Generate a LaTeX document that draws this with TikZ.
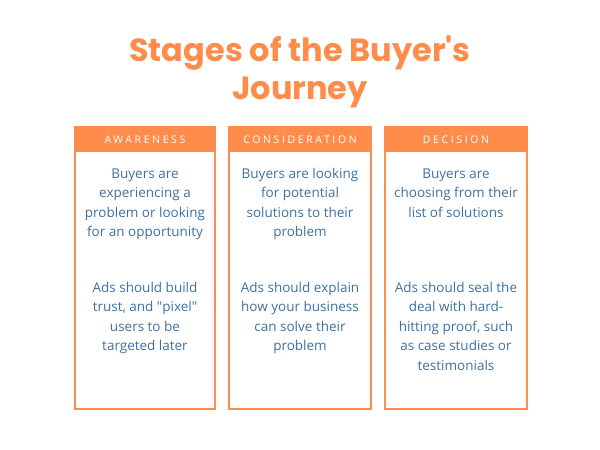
\documentclass[tikz,border=0pt]{standalone}
\usepackage{fontspec}
\setmainfont{Open Sans}
\newfontfamily\titlefont{Poppins}
\newfontfamily\headfont{Open Sans}[LetterSpace=25]
\definecolor{orng}{RGB}{255,140,75}
\definecolor{txtblue}{RGB}{62,112,160}
\begin{document}
\begin{tikzpicture}[x=1pt,y=-1pt,
  colbox/.style={draw=orng,line width=2pt},
  headbar/.style={fill=orng},
  headtxt/.style={text=white,font=\headfont\fontsize{10.5}{12}\selectfont,inner sep=0pt},
  para/.style={text=txtblue,font=\fontsize{13.5}{19.6}\selectfont,align=center,inner sep=0pt,anchor=base},
  ttl/.style={text=orng,font=\titlefont\bfseries\fontsize{32}{38}\selectfont,inner sep=0pt,anchor=base}]
\useasboundingbox (0,0) rectangle (600,450);
% columns
\foreach \l/\r/\n in {75/215/a,229/371/b,385/527/c}{
  \fill[headbar] (\l,127) rectangle (\r,152);
  \draw[colbox] (\l,127) rectangle (\r,409);
}
\node[ttl] (t1) at (300,61) {Stages of the Buyer\textquotesingle s};
\node[ttl] (t2) at (300,99) {Journey};
\node[headtxt] (h1) at (145,139.5) {AWARENESS};
\node[headtxt] (h2) at (300,139.5) {CONSIDERATION};
\node[headtxt] (h3) at (456,139.5) {DECISION};
% anchor=base is the baseline of the last line
\node[para] (p1) at (145,236.8) {Buyers are\\experiencing a\\problem or looking\\for an opportunity};
\node[para] (p2) at (300,236.8) {Buyers are looking\\for potential\\solutions to their\\problem};
\node[para] (p3) at (456,217.2) {Buyers are\\choosing from their\\list of solutions};
\node[para] (q1) at (145,350.8) {Ads should build\\trust, and \textquotedbl pixel\textquotedbl\\users to be\\targeted later};
\node[para] (q2) at (300,350.8) {Ads should explain\\how your business\\can solve their\\problem};
\node[para] (q3) at (456,370.4) {Ads should seal the\\deal with hard-\\hitting proof, such\\as case studies or\\testimonials};
\end{tikzpicture}
\end{document}
